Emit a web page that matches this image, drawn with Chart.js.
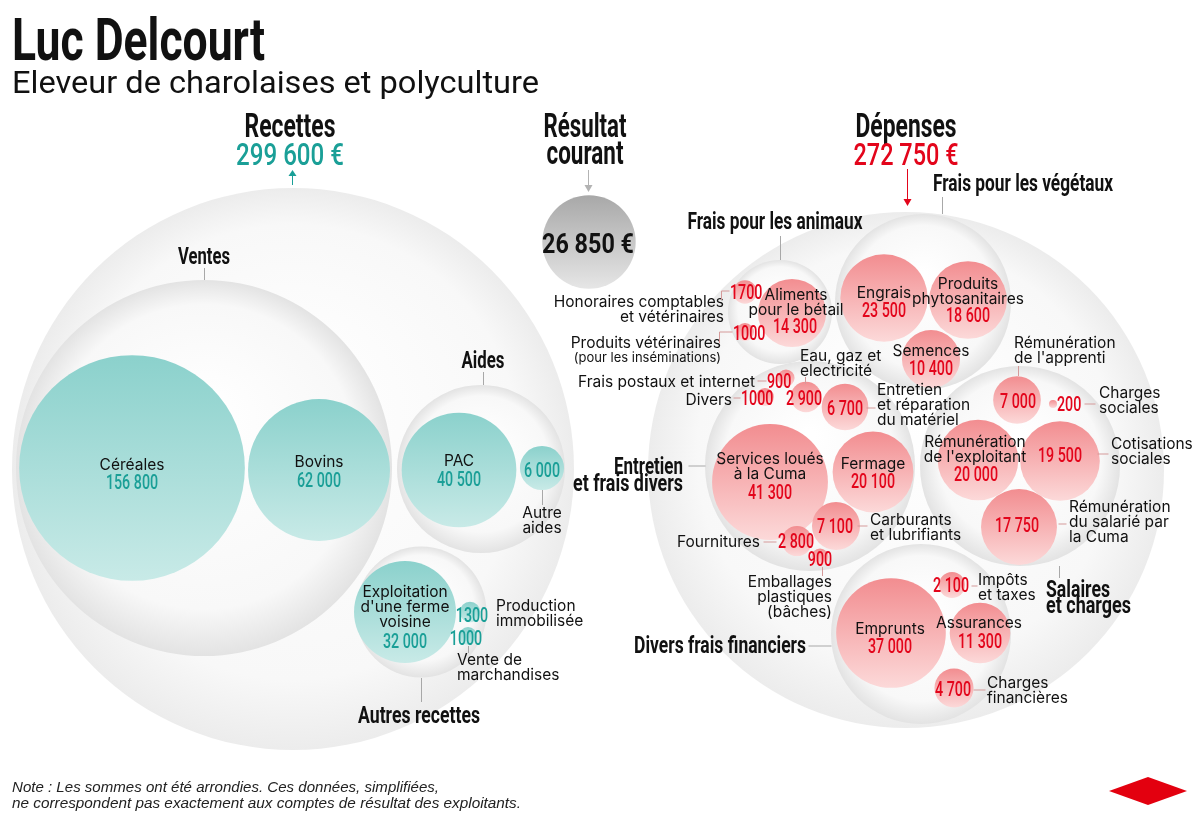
<!DOCTYPE html>
<html lang="fr">
<head>
<meta charset="utf-8">
<title>Luc Delcourt – Recettes et dépenses</title>
<script src="https://cdn.jsdelivr.net/npm/chart.js@4.4.1/dist/chart.umd.min.js"></script>
<style>
  html, body { margin: 0; padding: 0; background: #fff; }
  #page { position: relative; width: 1200px; height: 820px; overflow: hidden; }
  #chart { position: absolute; left: 0; top: 0; width: 1200px; height: 820px; }
  .fit { position: absolute; left: 12px; white-space: nowrap; line-height: 1; transform-origin: 0 0; color: #111; }
  #titre { top: 5px; font: 700 59px Roboto, sans-serif; }
  #soustitre { top: 63px; font: 400 32px Roboto, sans-serif; }
  .note { font: italic 14px "Liberation Sans", Arial, sans-serif; color: #222; }
</style>
</head>
<body>
<div id="page">
  <canvas id="chart" width="1200" height="820"></canvas>
  <div id="titre" class="fit" data-w="253">Luc Delcourt</div>
  <div id="soustitre" class="fit" data-w="527">Eleveur de charolaises et polyculture</div>
  <div class="fit note" style="top:779px" data-w="427">Note : Les sommes ont été arrondies. Ces données, simplifiées,</div>
  <div class="fit note" style="top:795px" data-w="509">ne correspondent pas exactement aux comptes de résultat des exploitants.</div>
</div>
<script>
// ---- données (en euros) ----
const recettesGroupes = ['Ventes', 'Aides', 'Autres recettes'];
const recettesCats = ['Céréales', 'Bovins', 'PAC', 'Autre\naides', "Exploitation\nd'une ferme\nvoisine",
  'Production\nimmobilisée', 'Vente de\nmarchandises'];
const recettesVals = [156800, 62000, 40500, 6000, 32000, 1300, 1000];
const recettesGroupe = [0, 0, 1, 1, 2, 2, 2];

const depensesGroupes = ['Frais pour les animaux', 'Frais pour les végétaux', 'Entretien\net frais divers',
  'Salaires\net charges', 'Divers frais financiers'];
const depensesCats = [
  'Honoraires comptables\net vétérinaires', 'Aliments\npour le bétail', 'Produits vétérinaires\n(pour les inséminations)',
  'Engrais', 'Produits\nphytosanitaires', 'Semences',
  'Frais postaux et internet', 'Divers', 'Eau, gaz et\nelectricité', 'Entretien\net réparation\ndu matériel',
  'Services loués\nà la Cuma', 'Fermage', 'Carburants\net lubrifiants', 'Fournitures', 'Emballages\nplastiques\n(bâches)',
  "Rémunération\nde l'apprenti", 'Charges\nsociales', "Rémunération\nde l'exploitant", 'Cotisations\nsociales',
  'Rémunération\ndu salarié par\nla Cuma',
  'Emprunts', 'Impôts\net taxes', 'Assurances', 'Charges\nfinancières'];
const depensesVals = [1700, 14300, 1000, 23500, 18600, 10400, 900, 1000, 2900, 6700, 41300, 20100, 7100, 2800, 900,
  7000, 200, 20000, 19500, 17750, 37000, 2100, 11300, 4700];
const depensesGroupe = [0, 0, 0, 1, 1, 1, 2, 2, 2, 2, 2, 2, 2, 2, 2, 3, 3, 3, 3, 3, 4, 4, 4, 4];

const totalRecettes = recettesVals.reduce((a, b) => a + b, 0);
const totalDepenses = depensesVals.reduce((a, b) => a + b, 0);
const resultatCourant = totalRecettes - totalDepenses;

// ---- mise en page (pixels) ----
const K = 0.285; // rayon = K * racine(valeur)
const recettesOuter = [293, 469, 281];
const depensesOuter = [906, 470, 258];
const resultatPos = [589, 242];

const recettesGroupPos = [[204, 468, 188], [481, 469, 84], [421, 612, 65.5]];
const depensesGroupPos = [[780, 312, 52], [923, 302, 88], [810, 466, 105], [1020, 466, 100], [921, 634, 90]];

const recettesPos = [[132, 468], [319, 470], [459, 470], [542, 468], [405, 612], [470, 612], [468, 636]];
const recettesNamePos = [[132, 470, 'center'], [319, 467, 'center'], [459, 466, 'center'], [542, 518, 'center'],
  [405, 597, 'center'], [496, 611, 'left'], [457, 665, 'left']];
const recettesValPos = [[132, 489], [319, 487], [459, 486], [542, 477], [405, 648], [472, 622], [466, 645]];
const recettesLeaders = { 3: [[542, 490], [542, 505]], 6: [[468, 646], [468, 653]] };

const depensesPos = [[745, 292], [792, 313], [745, 332], [884, 298], [968, 300], [931, 359],
  [786, 378], [765, 397], [806, 397], [845, 407], [770, 482], [873, 472], [836, 526], [797, 541], [820, 557],
  [1017, 400], [1053, 404], [978, 460], [1060, 461], [1019, 527],
  [891, 633], [952, 585], [980, 633], [954, 688]];
const depensesNamePos = [[724, 307, 'right'], [796, 300, 'center'], [721, 348, 'right'], [884, 298, 'center'],
  [968, 289, 'center'], [931, 356, 'center'],
  [755, 387, 'right'], [732, 405, 'right'], [800, 361, 'left'], [877, 395, 'left'], [770, 464, 'center'],
  [873, 469, 'center'], [870, 525, 'left'], [760, 547, 'right'], [832, 587, 'right'],
  [1014, 348, 'left'], [1099, 398, 'left'], [975, 447, 'center'], [1111, 449, 'left'], [1069, 512, 'left'],
  [890, 634, 'center'], [978, 585, 'left'], [979, 628, 'center'], [987, 688, 'left']];
const depensesValPos = [[730, 299, 'left'], [795, 333], [733, 340, 'left'], [884, 317], [968, 322], [931, 375],
  [767, 388, 'left'], [741, 405, 'left'], [804, 405], [845, 415], [770, 499], [873, 488], [835, 533], [796, 548],
  [820, 566],
  [1018, 408], [1057, 411, 'left'], [976, 481], [1060, 462], [1017, 532],
  [890, 653], [951, 592], [980, 648], [953, 696]];
const depensesLeaders = {
  0: [[721, 300], [721, 291], [729, 291]], 2: [[719, 343], [719, 332], [732, 332]],
  6: [[757, 381], [766, 381]], 7: [[733, 398], [740, 398]], 8: [[805, 377], [805, 384]],
  9: [[866, 408], [875, 408]], 12: [[857, 526], [867, 526]], 13: [[763, 542], [776, 542]],
  14: [[822, 567], [822, 576]], 15: [[1018, 366], [1018, 376]], 16: [[1084, 404], [1095, 404]],
  18: [[1097, 454], [1108, 454]], 19: [[1058, 524], [1066, 524]], 21: [[971, 586], [977, 586]],
  23: [[973, 690], [985, 690]]
};
const depensesSmall = { 2: [1] };

// étiquettes des groupes : x, y (ligne de base), alignement, largeurs, interligne
const recettesGroupLab = [[204, 264, 'center', [52]], [483, 368, 'center', [43]], [419, 723, 'center', [122]]];
const recettesGroupLead = [[[204, 268], [204, 280]], [[483, 372], [483, 385]], [[421, 678], [421, 702]]];
const depensesGroupLab = [[775, 229, 'center', [175]], [1023, 191, 'center', [180]],
  [683, 474, 'right', [69, 110], 17], [1046, 597, 'left', [64, 85], 16], [634, 653, 'left', [172]]];
const depensesGroupLead = [[[780, 236], [780, 260]], [[942, 197], [942, 214]], [[688, 466], [705, 466]],
  [[1059, 566], [1059, 578]], [[808, 646], [831, 646]]];

const TEAL = '#1a9f97';
const RED = '#e3051b';
const INK = '#111111';
const FONT_BODY = 'Inter, "Noto Sans", sans-serif';
const FONT_COND = 'Roboto, "Liberation Sans", sans-serif';

function fmt(v) {
  return v < 2000 ? String(v) : String(v).replace(/\B(?=(\d{3})+(?!\d))/g, ' ');
}
const rad = v => K * Math.sqrt(v);

// ---- dégradés ----
// centre en pixels, ou null tant que les échelles ne sont pas dimensionnées
function centre(ctx) {
  if (ctx.type !== 'data') return null;
  const xs = ctx.chart.scales.x, ys = ctx.chart.scales.y;
  if (!xs || !ys) return null;
  const p = ctx.raw;
  const cx = xs.getPixelForValue(p.x), cy = ys.getPixelForValue(p.y);
  if (!isFinite(cx) || !isFinite(cy) || !(p.r > 0)) return null;
  return [cx, cy, p.r];
}
function linear(top, bottom) {
  return ctx => {
    const m = centre(ctx);
    if (!m) return top;
    const [cx, cy, r] = m;
    const g = ctx.chart.ctx.createLinearGradient(cx, cy - r, cx, cy + r);
    g.addColorStop(0, top);
    g.addColorStop(1, bottom);
    return g;
  };
}
function sphere(mid, edge) {
  return ctx => {
    const m = centre(ctx);
    if (!m) return edge;
    const [cx, cy, r] = m;
    const g = ctx.chart.ctx.createRadialGradient(cx, cy - r * 0.3, r * 0.05, cx, cy, r);
    g.addColorStop(0, '#ffffff');
    g.addColorStop(0.8, mid);
    g.addColorStop(1, edge);
    return g;
  };
}

// ---- points des bulles ----
const outerPts = [recettesOuter, depensesOuter].map(([x, y, r]) => ({ x, y, r }));
const groupPts = recettesGroupPos.concat(depensesGroupPos).map(([x, y, r]) => ({ x, y, r }));
const recettesPts = recettesVals.map((v, i) => ({ x: recettesPos[i][0], y: recettesPos[i][1], r: rad(v) }));
const depensesPts = depensesVals.map((v, i) => ({ x: depensesPos[i][0], y: depensesPos[i][1], r: rad(v) }));
const resultatPts = [{ x: resultatPos[0], y: resultatPos[1], r: rad(resultatCourant) }];

// ---- textes ----
function cond(c, s, x, y, size, weight, color, align, w, sx) {
  c.save();
  c.font = `${weight} ${size}px ${FONT_COND}`;
  const k = w ? w / c.measureText(s).width : (sx || 0.68);
  c.translate(x, y);
  c.scale(k, 1);
  c.textAlign = align || 'center';
  c.textBaseline = 'alphabetic';
  c.fillStyle = color;
  c.fillText(s, 0, 0);
  c.restore();
}
function body(c, text, x, y, align, small) {
  c.save();
  c.fillStyle = INK;
  c.textAlign = align;
  c.textBaseline = 'alphabetic';
  text.split('\n').forEach((ln, i) => {
    const sm = small && small.includes(i);
    c.font = sm ? `13px ${FONT_BODY}` : `15.5px ${FONT_BODY}`;
    c.fillText(ln, x, y + i * 15.2 - (sm ? 1 : 0));
  });
  c.restore();
}
function line(c, pts, color) {
  c.save();
  c.strokeStyle = color;
  c.lineWidth = 1;
  c.beginPath();
  pts.forEach(([x, y], i) => (i ? c.lineTo(x + 0.5, y) : c.moveTo(x + 0.5, y)));
  c.stroke();
  c.restore();
}
function arrow(c, x, y1, y2, color, up) {
  line(c, [[x, y1], [x, y2]], color);
  const tip = up ? y1 - 5 : y2 + 6;
  const base = up ? y1 + 1 : y2 - 1;
  c.save();
  c.fillStyle = color;
  c.beginPath();
  c.moveTo(x + 0.5, tip);
  c.lineTo(x - 3.5, base);
  c.lineTo(x + 4.5, base);
  c.closePath();
  c.fill();
  c.restore();
}

const labelsPlugin = {
  id: 'etiquettes',
  afterDatasetsDraw(chart) {
    const c = chart.ctx;
    const X = v => chart.scales.x.getPixelForValue(v);
    const Y = v => chart.scales.y.getPixelForValue(v);
    const P = pts => pts.map(([x, y]) => [X(x), Y(y)]);

    // titres des colonnes
    cond(c, 'Recettes', X(290), Y(137), 34, 700, INK, 'center', 91);
    cond(c, fmt(totalRecettes) + ' €', X(290), Y(165), 32, 500, TEAL, 'center', 108);
    arrow(c, X(292), Y(175), Y(185), TEAL, true);
    cond(c, 'Résultat', X(585), Y(137), 34, 700, INK, 'center', 83);
    cond(c, 'courant', X(585), Y(164), 34, 700, INK, 'center', 77);
    arrow(c, X(588), Y(170), Y(186), '#b3b3b3', false);
    cond(c, fmt(resultatCourant) + ' €', X(588), Y(253), 28, 700, INK, 'center', 92);
    cond(c, 'Dépenses', X(906), Y(137), 34, 700, INK, 'center', 101);
    cond(c, fmt(totalDepenses) + ' €', X(906), Y(165), 32, 500, RED, 'center', 105);
    arrow(c, X(907), Y(169), Y(200), RED, false);

    // groupes
    const groups = [[recettesGroupes, recettesGroupLab, recettesGroupLead],
      [depensesGroupes, depensesGroupLab, depensesGroupLead]];
    groups.forEach(([names, labs, leads]) => {
      names.forEach((name, i) => {
        const [x, y, a, ws, lh] = labs[i];
        name.split('\n').forEach((ln, j) => cond(c, ln, X(x), Y(y + j * (lh || 17)), 23, 700, INK, a, ws[j]));
        line(c, P(leads[i]), '#a8a8a8');
      });
    });

    // recettes
    recettesVals.forEach((v, i) => {
      const [nx, ny, na] = recettesNamePos[i];
      body(c, recettesCats[i], X(nx), Y(ny), na);
      const [vx, vy, va] = recettesValPos[i];
      cond(c, fmt(v), X(vx), Y(vy), 21, 500, TEAL, va || 'center');
      if (recettesLeaders[i]) line(c, P(recettesLeaders[i]), '#a8a8a8');
    });

    // dépenses
    depensesVals.forEach((v, i) => {
      const [nx, ny, na] = depensesNamePos[i];
      body(c, depensesCats[i], X(nx), Y(ny), na, depensesSmall[i]);
      const [vx, vy, va] = depensesValPos[i];
      cond(c, fmt(v), X(vx), Y(vy), 21, 500, RED, va || 'center');
      if (depensesLeaders[i]) line(c, P(depensesLeaders[i]), '#d59a9a');
    });

    // logo
    c.save();
    c.fillStyle = '#e3000f';
    c.beginPath();
    c.moveTo(X(1109), Y(791));
    c.lineTo(X(1148), Y(777));
    c.lineTo(X(1187), Y(791));
    c.lineTo(X(1148), Y(805));
    c.closePath();
    c.fill();
    c.restore();
  }
};

new Chart(document.getElementById('chart'), {
  type: 'bubble',
  data: {
    datasets: [
      { label: 'Totaux', data: outerPts, order: 2, backgroundColor: sphere('#f8f8f8', '#ececec') },
      { label: 'Groupes', data: groupPts, order: 1, backgroundColor: sphere('#f8f8f8', '#e3e3e3') },
      { label: 'Recettes', data: recettesPts, order: 0, backgroundColor: linear('#8bd1cc', '#c8eae7') },
      { label: 'Dépenses', data: depensesPts, order: 0, backgroundColor: linear('#f28d90', '#fcd9d9') },
      { label: 'Résultat courant', data: resultatPts, order: 0, backgroundColor: linear('#a8a8a8', '#e6e6e6') }
    ]
  },
  options: {
    responsive: false,
    animation: false,
    events: [],
    layout: { autoPadding: false, padding: 0 },
    elements: { point: { borderWidth: 0, hoverBorderWidth: 0, hoverRadius: 0 } },
    scales: {
      x: { type: 'linear', min: 0, max: 1200, display: false },
      y: { type: 'linear', min: 0, max: 820, reverse: true, display: false }
    },
    plugins: { legend: { display: false }, tooltip: { enabled: false } }
  },
  plugins: [labelsPlugin]
});

// titres HTML ajustés à la largeur du modèle
document.querySelectorAll('.fit').forEach(el => {
  const w = +el.dataset.w;
  const k = w / el.getBoundingClientRect().width;
  el.style.transform = `scaleX(${k})`;
});
</script>
</body>
</html>
